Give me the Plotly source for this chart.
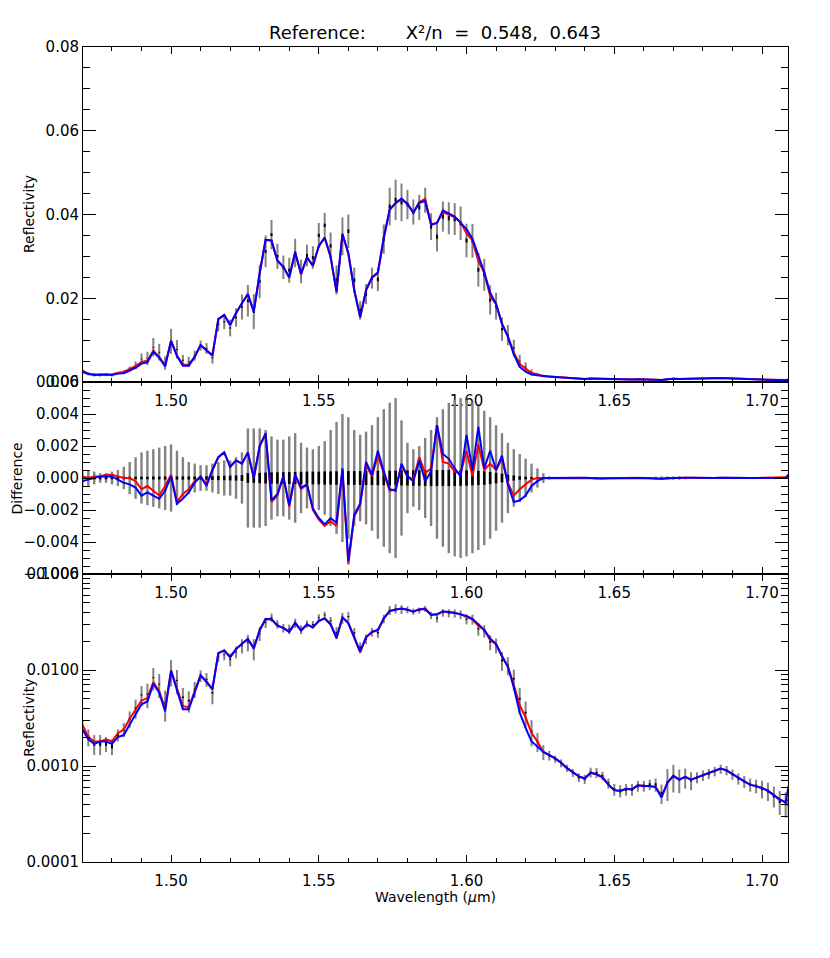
import numpy as np
import plotly.graph_objects as go
from plotly.subplots import make_subplots

# wavelength grid (micron)
wavelength = [
    1.470, 1.472, 1.474, 1.476, 1.478, 1.480, 1.482, 1.484, 1.486, 1.488,
    1.490, 1.492, 1.494, 1.496, 1.498, 1.500, 1.502, 1.504, 1.506, 1.508,
    1.510, 1.512, 1.514, 1.516, 1.518, 1.520, 1.522, 1.524, 1.526, 1.528,
    1.530, 1.532, 1.534, 1.536, 1.538, 1.540, 1.542, 1.544, 1.546, 1.548,
    1.550, 1.552, 1.554, 1.556, 1.558, 1.560, 1.562, 1.564, 1.566, 1.568,
    1.570, 1.572, 1.574, 1.576, 1.578, 1.580, 1.582, 1.584, 1.586, 1.588,
    1.590, 1.592, 1.594, 1.596, 1.598, 1.600, 1.602, 1.604, 1.606, 1.608,
    1.610, 1.612, 1.614, 1.616, 1.618, 1.620, 1.622, 1.624, 1.626, 1.628,
    1.630, 1.632, 1.634, 1.636, 1.638, 1.640, 1.642, 1.644, 1.646, 1.648,
    1.650, 1.652, 1.654, 1.656, 1.658, 1.660, 1.662, 1.664, 1.666, 1.668,
    1.670, 1.672, 1.674, 1.676, 1.678, 1.680, 1.682, 1.684, 1.686, 1.688,
    1.690, 1.692, 1.694, 1.696, 1.698, 1.700, 1.702, 1.704, 1.706, 1.708,
    1.709,
]

# blue model reflectivity
model_blue = [
    0.0024, 0.0019, 0.0017, 0.0018, 0.0018, 0.0017, 0.0020, 0.0021, 0.0027, 0.0034,
    0.0044, 0.0047, 0.0072, 0.0058, 0.0037, 0.0098, 0.0062, 0.0039, 0.0039, 0.0060,
    0.0088, 0.0075, 0.0063, 0.0150, 0.0160, 0.0136, 0.0165, 0.0188, 0.0210, 0.0168,
    0.0260, 0.0340, 0.0338, 0.0290, 0.0275, 0.0250, 0.0310, 0.0258, 0.0298, 0.0278,
    0.0325, 0.0345, 0.0300, 0.0216, 0.0354, 0.0308, 0.0220, 0.0155, 0.0220, 0.0250,
    0.0262, 0.0345, 0.0412, 0.0427, 0.0438, 0.0425, 0.0404, 0.0428, 0.0432, 0.0375,
    0.0380, 0.0410, 0.0403, 0.0395, 0.0380, 0.0365, 0.0342, 0.0300, 0.0262, 0.0213,
    0.0186, 0.0140, 0.0108, 0.0066, 0.0036, 0.0025, 0.0018, 0.0016, 0.0014, 0.0013,
    0.00120, 0.00108, 0.00095, 0.00086, 0.00078, 0.00074, 0.00085, 0.00082, 0.00076, 0.00064,
    0.00056, 0.00055, 0.00058, 0.00057, 0.00063, 0.00062, 0.00062, 0.00060, 0.00047, 0.00067,
    0.00079, 0.00072, 0.00077, 0.00072, 0.00076, 0.00080, 0.00084, 0.00088, 0.00094, 0.00090,
    0.00082, 0.00075, 0.00069, 0.00064, 0.00062, 0.00059, 0.00055, 0.00050, 0.00045, 0.00042,
    0.00062,
]

# model minus data, blue model
diff_blue = [
    -0.0002, -0.0001, 0.0000, 0.0001, 0.0001, 0.0001, -0.0001, -0.0003, -0.0004, -0.0006,
    -0.0011, -0.0009, -0.0011, -0.0013, -0.0008, 0.0001, -0.0016, -0.0013, -0.0009, -0.0003,
    0.0001, -0.0005, 0.0005, 0.0013, 0.0016, 0.0007, 0.0011, 0.0009, 0.0016, 0.0000,
    0.0020, 0.0028, -0.0014, -0.0010, 0.0001, -0.0017, 0.0002, -0.0006, -0.0004, -0.0019,
    -0.0025, -0.0029, -0.0025, -0.0028, 0.0006, -0.0052, -0.0023, -0.0016, 0.0010, 0.0002,
    0.0017, 0.0004, -0.0007, -0.0008, 0.0009, 0.0001, -0.0002, 0.0011, -0.0002, 0.0004,
    0.0033, 0.0015, 0.0012, 0.0006, 0.0001, 0.0027, 0.0005, 0.0032, 0.0006, 0.0017,
    0.0005, 0.0014, -0.0004, -0.0015, -0.0014, -0.0011, -0.0005, -0.0002, 0.0000, 0.00001,
    0.00002, 0.00001, 0.0, 0.00001, 0.00002, 0.00001, -0.00001, -0.00003, -0.00003, -0.00002,
    -0.00001, 0.0, 0.00001, 0.0, 0.00001, 0.0, -0.00002, -0.00004, -0.00005, -0.00001,
    0.00001, 0.0, 0.00001, 0.00001, 0.0, 0.0, 0.00001, 0.0, 0.00001, 0.0,
    0.0, 0.00001, 0.0, 0.0, 0.0, 0.00001, 0.0, 0.00001, 0.00002, 0.00001,
    0.00022,
]

# model minus data, red model
diff_red = [
    0.0001, 0.0000, 0.0001, 0.0001, 0.0002, 0.0002, 0.0001, 0.0000, 0.0000, -0.0002,
    -0.0007, -0.0005, -0.0008, -0.0011, -0.0005, 0.0002, -0.0015, -0.0010, -0.0007, -0.0002,
    0.0001, -0.0004, 0.0005, 0.0013, 0.0016, 0.0007, 0.0011, 0.0009, 0.0016, 0.0000,
    0.0020, 0.0027, -0.0015, -0.0011, 0.0001, -0.0018, 0.0002, -0.0007, -0.0004, -0.0020,
    -0.0026, -0.0030, -0.0027, -0.0030, 0.0005, -0.0054, -0.0024, -0.0017, 0.0008, 0.0001,
    0.0014, 0.0003, -0.0008, -0.0007, 0.0008, 0.0001, -0.0001, 0.0013, 0.0003, 0.0006,
    0.0033, 0.0010, 0.0009, 0.0004, 0.0003, 0.0017, 0.0001, 0.0021, 0.0005, 0.0009,
    0.0005, 0.0012, -0.0003, -0.0011, -0.0007, -0.0004, -0.0001, 0.0000, 0.0000, 0.00001,
    0.00002, 0.00001, 0.0, 0.00001, 0.00002, 0.00001, -0.00001, -0.00003, -0.00002, -0.00002,
    -0.00001, 0.0, 0.00001, 0.0, 0.00001, 0.0, -0.00002, -0.00003, -0.00004, -0.00001,
    0.00001, 0.0, 0.00001, 0.00001, 0.0, 0.0, 0.00001, 0.0, 0.00001, 0.0,
    0.0, 0.00001, 0.0, 0.0, 0.0, 0.00001, 0.0, 0.00001, 0.00001, 0.00001,
    0.00005,
]

# 1-sigma uncertainty of the data (top and bottom panels)
err_obs = [
    0.0004, 0.0004, 0.0004, 0.0004, 0.0003, 0.0003, 0.0003, 0.0004, 0.0006, 0.0009,
    0.0013, 0.0016, 0.0022, 0.0020, 0.0016, 0.0030, 0.0022, 0.0013, 0.0012, 0.0012,
    0.0012, 0.0013, 0.0014, 0.0016, 0.0018, 0.0020, 0.0022, 0.0030, 0.0038, 0.0042,
    0.0040, 0.0038, 0.0035, 0.0030, 0.0028, 0.0030, 0.0034, 0.0028, 0.0026, 0.0027,
    0.0030, 0.0030, 0.0032, 0.0035, 0.0045, 0.0040, 0.0030, 0.0022, 0.0024, 0.0025,
    0.0028, 0.0035, 0.0045, 0.0048, 0.0045, 0.0035, 0.0030, 0.0030, 0.0030, 0.0032,
    0.0035, 0.0036, 0.0038, 0.0038, 0.0040, 0.0040, 0.0040, 0.0040, 0.0038, 0.0035,
    0.0032, 0.0028, 0.0024, 0.0020, 0.0015, 0.0011, 0.0007, 0.0004, 0.00025, 0.00015,
    0.00010, 0.00010, 0.00008, 0.00008, 0.00008, 0.00008, 0.00010, 0.00010, 0.00008, 0.00008,
    0.00008, 0.00008, 0.00008, 0.00008, 0.00008, 0.00008, 0.00008, 0.00010, 0.00012, 0.00025,
    0.00025, 0.00020, 0.00018, 0.00015, 0.00010, 0.00010, 0.00010, 0.00010, 0.00010, 0.00010,
    0.00010, 0.00010, 0.00010, 0.00010, 0.00010, 0.00012, 0.00012, 0.00012, 0.00012, 0.00012,
    0.00010,
]

# uncertainty on the difference (grey bars, middle panel)
err_diff = [
    0.0005, 0.0005, 0.0004, 0.0003, 0.0003, 0.0004, 0.0005, 0.0007, 0.0010, 0.0013,
    0.0016, 0.0017, 0.0018, 0.0019, 0.0020, 0.0021, 0.0017, 0.0013, 0.0010, 0.0009,
    0.0008, 0.0008, 0.0009, 0.0010, 0.0011, 0.0011, 0.0013, 0.0016, 0.0031, 0.0031,
    0.0031, 0.0030, 0.0026, 0.0024, 0.0024, 0.0026, 0.0028, 0.0022, 0.0019, 0.0018,
    0.0020, 0.0023, 0.0030, 0.0035, 0.0040, 0.0038, 0.0030, 0.0027, 0.0029, 0.0033,
    0.0038, 0.0043, 0.0047, 0.0050, 0.0036, 0.0022, 0.0018, 0.0020, 0.0025, 0.0030,
    0.0038, 0.0043, 0.0047, 0.0049, 0.0050, 0.0049, 0.0047, 0.0045, 0.0042, 0.0038,
    0.0033, 0.0028, 0.0022, 0.0018, 0.0015, 0.0012, 0.0009, 0.0006, 0.0003, 0.0001,
    0.00005, 0.00004, 0.00004, 0.00004, 0.00004, 0.00004, 0.00004, 0.00004, 0.00004, 0.00004,
    0.00004, 0.00004, 0.00004, 0.00004, 0.00004, 0.00005, 0.00006, 0.00008, 0.00010, 0.00010,
    0.00010, 0.00010, 0.00008, 0.00006, 0.00004, 0.00004, 0.00004, 0.00004, 0.00004, 0.00004,
    0.00004, 0.00004, 0.00004, 0.00004, 0.00004, 0.00004, 0.00004, 0.00004, 0.00004, 0.00004,
    0.00004,
]

# small uncertainty (black bars)
err_small = [
    0.00008, 0.00008, 0.00008, 0.00008, 0.00008, 0.00008, 0.00008, 0.00008, 0.00008, 0.00008,
    0.00008, 0.00008, 0.00009, 0.00009, 0.00010, 0.00010, 0.00010, 0.00010, 0.00010, 0.00010,
    0.00010, 0.00011, 0.00012, 0.00013, 0.00014, 0.00015, 0.00016, 0.00018, 0.00030, 0.00030,
    0.00032, 0.00034, 0.00035, 0.00036, 0.00036, 0.00037, 0.00038, 0.00039, 0.00040, 0.00040,
    0.00040, 0.00041, 0.00041, 0.00042, 0.00042, 0.00043, 0.00043, 0.00043, 0.00044, 0.00044,
    0.00045, 0.00045, 0.00046, 0.00046, 0.00047, 0.00047, 0.00048, 0.00048, 0.00049, 0.00050,
    0.00050, 0.00050, 0.00050, 0.00050, 0.00049, 0.00048, 0.00046, 0.00044, 0.00042, 0.00038,
    0.00033, 0.00027, 0.00021, 0.00016, 0.00011, 0.00008, 0.00006, 0.00004, 0.00003, 0.00003,
    0.00002, 0.00002, 0.00002, 0.00002, 0.00002, 0.00002, 0.00002, 0.00002, 0.00002, 0.00002,
    0.00002, 0.00002, 0.00002, 0.00002, 0.00002, 0.00002, 0.00002, 0.00002, 0.00002, 0.00002,
    0.00002, 0.00002, 0.00002, 0.00002, 0.00002, 0.00002, 0.00002, 0.00002, 0.00002, 0.00002,
    0.00002, 0.00002, 0.00002, 0.00002, 0.00002, 0.00002, 0.00002, 0.00002, 0.00002, 0.00002,
    0.00002,
]

wl = np.array(wavelength)
obs = np.array(model_blue) - np.array(diff_blue)
model_red = obs + np.array(diff_red)

GREY = "rgb(130,130,130)"
FONT = "DejaVu Sans"

fig = make_subplots(rows=3, cols=1, vertical_spacing=0,
                    row_heights=[335, 192, 288])


def bars(y, err, color, width, row):
    fig.add_trace(go.Scatter(x=wl, y=y, mode="markers",
                             marker=dict(size=1, color="rgba(0,0,0,0)"),
                             error_y=dict(type="data", array=err, color=color,
                                          thickness=width, width=0),
                             showlegend=False, hoverinfo="skip"),
                  row=row, col=1)


def line(y, color, row):
    fig.add_trace(go.Scatter(x=wl, y=y, mode="lines",
                             line=dict(color=color, width=2),
                             showlegend=False),
                  row=row, col=1)


# top: linear reflectivity
bars(obs, err_obs, GREY, 2, 1)
bars(obs, err_small, "black", 2, 1)
line(model_red, "red", 1)
line(model_blue, "blue", 1)

# middle: difference
zero = np.zeros_like(wl)
bars(zero, err_diff, GREY, 2.4, 2)
bars(zero, err_small, "black", 2.6, 2)
line(diff_red, "red", 2)
line(diff_blue, "blue", 2)

# bottom: log reflectivity
bars(obs, err_obs, GREY, 2, 3)
bars(obs, err_small, "black", 2, 3)
line(model_red, "red", 3)
line(model_blue, "blue", 3)

axis_style = dict(showline=True, linecolor="black", linewidth=1,
                  mirror="allticks", ticks="inside", tickcolor="black",
                  showgrid=False, zeroline=False,
                  tickfont=dict(family=FONT, size=15, color="black"))

for r in (1, 2, 3):
    fig.update_xaxes(range=[1.4702, 1.7088], dtick=0.05, tick0=1.5,
                     tickformat=".2f", ticklen=7, ticklabelstandoff=5,
                     minor=dict(ticks="inside", dtick=0.01, ticklen=4,
                                tickcolor="black"),
                     row=r, col=1, **axis_style)

fig.update_yaxes(range=[0, 0.08], dtick=0.02, tickformat=".2f", ticklen=13,
                 minor=dict(ticks="inside", dtick=0.005, ticklen=7,
                            tickcolor="black"),
                 row=1, col=1, **axis_style)
fig.update_yaxes(range=[-0.006, 0.006], dtick=0.002, tickformat=".3f",
                 ticklen=13,
                 minor=dict(ticks="inside", dtick=0.0005, ticklen=7,
                            tickcolor="black"),
                 row=2, col=1, **axis_style)
fig.update_yaxes(type="log", range=[-4, -1], ticklen=13,
                 tickvals=[0.0001, 0.001, 0.01, 0.1],
                 ticktext=["0.0001", "0.0010", "0.0100", "0.1000"],
                 minor=dict(ticks="inside", ticklen=7, tickcolor="black",
                            tickvals=[0.0002, 0.0003, 0.0004, 0.0005, 0.0006,
                                      0.0007, 0.0008, 0.0009, 0.002, 0.003,
                                      0.004, 0.005, 0.006, 0.007, 0.008,
                                      0.009, 0.02, 0.03, 0.04, 0.05, 0.06,
                                      0.07, 0.08, 0.09]),
                 row=3, col=1, **axis_style)

# axis titles and header, placed like the original IDL plot
notes = [
    ("Reflectivity", -0.0766, 0.795),
    ("Difference", -0.0936, 0.4706),
    ("Reflectivity", -0.0766, 0.177),
]
for text, x, y in notes:
    fig.add_annotation(text=text, x=x, y=y, xref="paper", yref="paper",
                       xanchor="center", yanchor="middle", textangle=-90,
                       showarrow=False,
                       font=dict(family=FONT, size=14, color="black"))

fig.add_annotation(text="Wavelength (<i>μ</i>m)", x=0.5, y=-0.043,
                   xref="paper", yref="paper", showarrow=False,
                   xanchor="center", yanchor="middle",
                   font=dict(family=FONT, size=14, color="black"))
fig.add_annotation(text="Reference:&nbsp;&nbsp;&nbsp;&nbsp;&nbsp;&nbsp; "
                        "X²/n&nbsp; =&nbsp; 0.548,&nbsp; 0.643",
                   x=0.4993, y=1.0184, xref="paper", yref="paper",
                   showarrow=False, xanchor="center", yanchor="middle",
                   font=dict(family=FONT, size=18, color="black"))

# page body adds an 8 px offset, margins compensate for it
fig.update_layout(width=830, height=958,
                  margin=dict(l=75, r=50, t=39, b=104),
                  paper_bgcolor="white", plot_bgcolor="white",
                  showlegend=False)

fig.write_html("out.html")
